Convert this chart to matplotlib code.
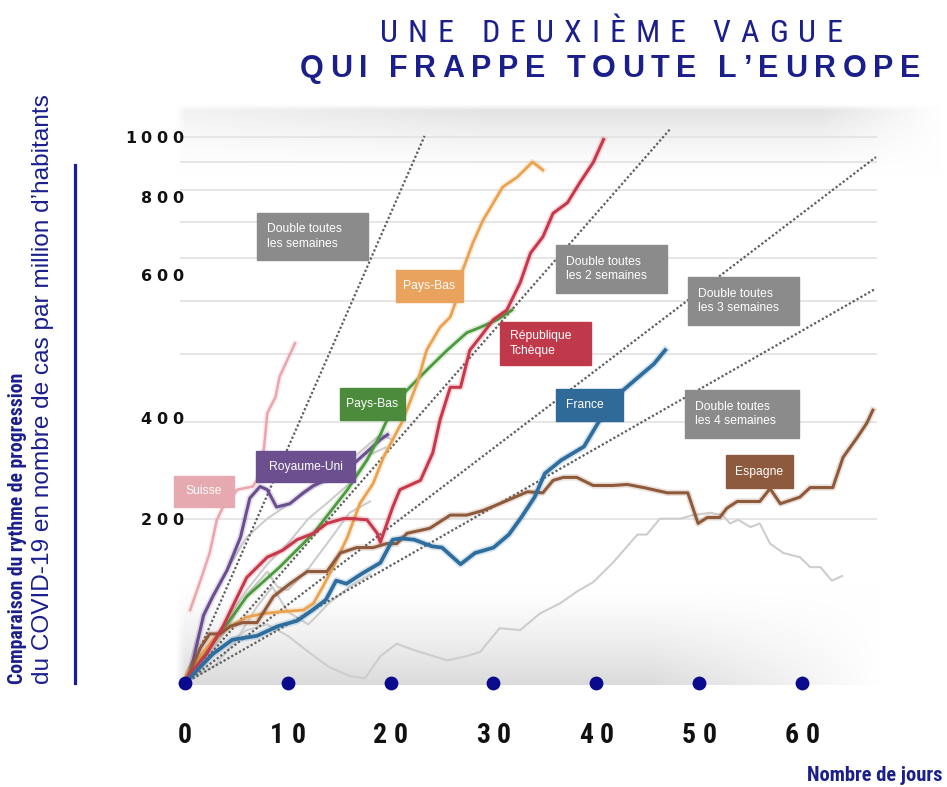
import numpy as np
import matplotlib
matplotlib.use("Agg")
import matplotlib.pyplot as plt
from matplotlib.lines import Line2D
from matplotlib.patches import Rectangle
from matplotlib.font_manager import FontProperties, fontManager
import matplotlib.patheffects as pe

# ---------------- data (index = 100 at day 0, log scale) ----------------
france_days = [0, 2.7, 4.6, 7, 9, 10.9, 12.4, 13.7, 14.7, 15.7, 17.3, 19, 20.2, 21, 22.3, 24, 25,
               26.8, 28.2, 30, 31.5, 32.7, 34, 35, 36.6, 38.8, 40.2, 42, 44, 45.6, 46.7]
france_vals = [100, 113, 120, 122, 127, 130, 136, 142, 154, 152, 159, 166, 183, 184, 183, 178, 177,
               165, 173, 177, 187, 201, 219, 242, 256, 271, 300, 336, 362, 384, 407]

spain_days = [0, 1.5, 2.4, 3.4, 4.4, 5.6, 7.0, 8.6, 10.2, 11.9, 13.8, 15.1, 16.7, 18.3, 19.6, 20.6,
              21.6, 23.8, 25.8, 27.4, 29.0, 30.6, 33.3, 34.8, 35.8, 36.8, 38.1, 39.7, 41.6, 43.0,
              44.6, 46.9, 48.9, 49.9, 50.8, 52.0, 52.7, 53.7, 55.9, 56.9, 57.9, 59.8, 60.8, 63.0,
              64.0, 65.4, 66.3, 66.9]
spain_vals = [100, 116, 123, 123, 127, 129, 129, 144, 152, 160, 160, 173, 177, 177, 180, 180,
              188, 192, 203, 203, 207, 213, 224, 223, 235, 238, 238, 230, 230, 231,
              228, 223, 223, 196, 201, 201, 209, 215, 215, 227, 213, 219, 228, 228,
              259, 282, 299, 316]

czech_days = [0, 0.5, 2.1, 3.7, 5.1, 6.0, 8.0, 9.5, 10.9, 12.5, 13.8, 15.4, 16.3, 17.7, 18.7, 19.0,
              20.2, 20.9, 22.9, 24.1, 24.8, 25.8, 26.8, 27.7, 28.7, 30.0, 31.3, 32.6, 33.6, 34.8,
              35.8, 37.2, 38.4, 39.7, 40.7]
czech_vals = [100, 104, 113, 127, 144, 156, 170, 175, 183, 188, 196, 200, 200, 199, 188, 181,
              210, 226, 235, 264, 303, 348, 348, 407, 430, 463, 482, 541, 613, 656,
              725, 758, 825, 898, 989]

nl_orange_days = [0, 0.2, 1.5, 2.7, 4.4, 6.0, 7.6, 9.2, 11.5, 12.5, 13.4, 14.4, 15.8, 17.0, 18.3,
                  19.3, 20.2, 21.2, 22.6, 23.5, 24.8, 25.8, 26.5, 27.0, 28.0, 29.0, 30.0, 30.9,
                  32.3, 33.8, 34.8]
nl_orange_vals = [100, 104, 112, 120, 127, 132, 134, 135, 136, 140, 150, 163, 185, 213, 232,
                  259, 279, 303, 355, 407, 448, 468, 510, 570, 640, 705, 758, 810,
                  844, 900, 870]

nl_green_days = [0, 0.5, 2.7, 6.0, 9.2, 12.5, 15.8, 17.7, 19.0, 20.2, 21.6, 23.5, 25.5, 27.4, 28.7,
                 30.4, 31.8]
nl_green_vals = [100, 106, 118, 144, 163, 188, 226, 256, 285, 320, 344, 374, 407, 438, 448,
                 463, 482]

uk_days = [0, 0.8, 1.8, 2.7, 4.1, 5.4, 6.3, 7.3, 8.0, 8.9, 10.2, 11.5, 12.5, 14.4, 16.3, 17.7,
           19.0, 19.7]
uk_vals = [100, 110, 133, 144, 161, 185, 218, 229, 226, 210, 213, 223, 230, 238, 251, 265,
           279, 285]

swiss_days = [0.5, 1.5, 2.4, 3.1, 3.7, 5.1, 6.6, 7.3, 7.7, 8.0, 8.8, 9.2, 10.7]
swiss_vals = [136, 154, 173, 199, 210, 226, 229, 240, 271, 312, 334, 364, 419]

gray_series = [
    ([0, 2, 4, 6, 8, 10, 12, 14, 16, 17.5, 19, 20.6, 22.2, 25.5, 27.4, 28.7, 30.6, 32.6, 34.5,
      36.5, 38.1, 39.7, 41.6, 44.0, 44.9, 46.2, 48.2, 49.4, 51.1, 52.3, 53.0, 53.8, 55.0, 55.9,
      56.9, 58.2, 59.8, 60.8, 61.8, 62.9, 63.9],
     [100, 110, 118, 125, 128, 122, 114, 107, 103, 102, 112, 118, 115, 110, 112, 114, 126, 125,
      134, 140, 147, 153, 166, 187, 187, 200, 200, 203, 205, 203, 196, 199, 193, 196,
      180, 173, 170, 163, 163, 154, 157]),
    ([0, 1, 2, 4, 6, 8, 10, 12, 14, 16, 18, 19, 20],
     [100, 118, 135, 160, 185, 200, 212, 225, 238, 255, 275, 285, 280]),
    ([0, 2, 4, 6, 8, 10, 12, 14, 16, 18, 19.5],
     [100, 112, 130, 148, 165, 180, 200, 215, 232, 262, 270]),
    ([0, 2, 4, 6, 8, 9, 10, 12, 14, 16, 18],
     [100, 110, 125, 145, 160, 150, 148, 162, 182, 205, 215]),
    ([0, 3, 5, 7, 8.5, 10, 12, 14, 16, 18],
     [100, 108, 120, 138, 150, 135, 128, 140, 150, 158]),
]

doubling_periods = [7, 14, 21, 28]          # days to double
doubling_end_days = [23.3, 47.2, 67.2, 67.2]

grid_values = [200, 300, 400, 500, 600, 700, 800, 900, 1000]
ytick_positions = [200, 306, 559, 776, 1000]
ytick_labels = ["200", "400", "600", "800", "1000"]
xtick_days = [0, 10, 20, 30, 40, 50, 60]

# ---------------- fonts ----------------
_names = {f.name for f in fontManager.ttflist}

def pick(*cands):
    for c in cands:
        if c in _names:
            return c
    return "DejaVu Sans"

NARROW = pick("Liberation Sans Narrow", "DejaVu Sans Condensed", "Roboto Condensed",
              "Open Sans Condensed", "Liberation Sans")
SANS = pick("Liberation Sans", "Arial", "DejaVu Sans")

# ---------------- figure ----------------
W, H = 947, 787
fig = plt.figure(figsize=(W / 100, H / 100), dpi=100)
fig.patch.set_facecolor("white")
NAVY = "#1b1f8c"

def fx(px):
    return px / W

def fy(py):
    return 1 - py / H

# background gradient image
bg = fig.add_axes([0, 0, 1, 1], zorder=-5)
bg.axis("off")
xx, yy = np.meshgrid(np.arange(W), np.arange(H))
top_d = 0.11 * np.clip((175 - yy) / 65, 0, 1) ** 1.4
top_d *= (0.45 + 0.55 * np.clip((xx - 180) / 300, 0, 1)) * np.clip((yy - 104) / 6, 0, 1)
top_d *= np.clip((xx - 175) / 10, 0, 1) * np.clip((940 - xx) / 120, 0, 1)
bot_d = 0.14 * np.clip((yy - 585) / 98, 0, 1) ** 1.3 * (yy <= 684)
bot_d *= np.clip((880 - xx) / 230, 0, 1) * np.clip((xx - 175) / 10, 0, 1)
g = 1 - top_d - bot_d
bg.imshow(np.dstack([g, g, g]), extent=[0, 1, 0, 1], aspect="auto", interpolation="bilinear")
bg.set_xlim(0, 1)
bg.set_ylim(0, 1)

ax = fig.add_axes([fx(180), fy(683), (877 - 180) / W, (683 - 108) / H])
ax.patch.set_alpha(0)
ax.set_yscale("log")
ax.set_xlim(-0.486, 67.3)
ax.set_ylim(100, 1130)
for s in ax.spines.values():
    s.set_visible(False)
ax.set_xticks([])
ax.set_yticks([])
ax.minorticks_off()

for gv in grid_values:
    ax.axhline(gv, color="#e4e4e4", lw=1.3, zorder=1)

for d, v in gray_series:
    ax.plot(d, v, color="#cdcdcd", lw=1.5, zorder=2)

for T, end in zip(doubling_periods, doubling_end_days):
    ax.plot([0, end], [100, 100 * 2 ** (end / T)], color="#5e5e5e", lw=1.6,
            linestyle=(0, (1, 1)), zorder=3)

def series(d, v, color, lw, z=5):
    ax.plot(d, v, color=color, lw=lw, zorder=z, solid_joinstyle="round",
            path_effects=[pe.Stroke(linewidth=lw + 2.5, foreground=color, alpha=0.18), pe.Normal()])

series(swiss_days, swiss_vals, "#e9a6ad", 1.8)
series(uk_days, uk_vals, "#6b4e90", 2.2)
series(nl_green_days, nl_green_vals, "#4c9a3d", 2.0)
series(nl_orange_days, nl_orange_vals, "#eaa24f", 2.0)
series(spain_days, spain_vals, "#8e5a3b", 2.2)
series(czech_days, czech_vals, "#c8384a", 2.2)
series(france_days, france_vals, "#2e6e9e", 2.7, z=6)

ax.scatter(xtick_days, [100] * len(xtick_days), s=80, color="#0a0a8c", zorder=8, clip_on=False)

# ---------------- text helpers ----------------
renderer = fig.canvas.get_renderer()

def text_w(s, fp):
    return renderer.get_text_width_height_descent(s, fp, ismath=False)[0]

def fit_size(s, family, weight, target):
    fp = FontProperties(family=family, weight=weight, size=10)
    return 10 * target / text_w(s, fp)

def spaced(s, x, y, fp, color, tracking=0.0, width=None, ha="center"):
    """x, y in display pixels (y from bottom); y = baseline."""
    ws = [text_w(ch, fp) for ch in s]
    if width is not None and len(s) > 1:
        tracking = (width - sum(ws)) / (len(s) - 1)
    total = sum(ws) + tracking * (len(s) - 1)
    cx = x - total / 2 if ha == "center" else (x - total if ha == "right" else x)
    for ch, w in zip(s, ws):
        fig.text(cx / W, y / H, ch, fontproperties=fp, color=color, ha="left", va="baseline")
        cx += w + tracking

# y tick labels
fp_y = FontProperties(family=["DejaVu Sans"], weight="bold", size=11.5)
for pos, lab in zip(ytick_positions, ytick_labels):
    yd = ax.transData.transform((0, pos))[1]
    spaced(lab, 183, yd - 6, fp_y, "#111111", tracking=4.5, ha="right")

# x tick labels
fp_x = FontProperties(family=NARROW, weight="bold", size=20)
for d in xtick_days:
    xd = ax.transData.transform((d, 100))[0]
    spaced(str(d), xd, H - 743, fp_x, "#111111", tracking=7, ha="center")

# titles
fp_t1 = FontProperties(family=NARROW, weight="normal", size=23)
fp_t2 = FontProperties(family=SANS, weight="bold", size=22)
spaced("UNE DEUXIÈME VAGUE", 611, H - 42, fp_t1, NAVY, width=462)
spaced("QUI FRAPPE TOUTE L’EUROPE", 610, H - 77, fp_t2, NAVY, width=620)

# axis titles
lab1 = "Comparaison du rythme de progression"
lab2 = "du COVID-19 en nombre de cas par million d’habitants"
fig.text(fx(18), fy(684), lab1, rotation=90, ha="center", va="bottom", color=NAVY,
         family=NARROW, weight="bold", fontsize=fit_size(lab1, NARROW, "bold", 311))
fig.text(fx(43), fy(684), lab2, rotation=90, ha="center", va="bottom", color=NAVY,
         family=SANS, fontsize=fit_size(lab2, SANS, "normal", 591))
fig.add_artist(Line2D([fx(75), fx(75)], [fy(165), fy(683)], color="#1a1a9a", lw=2.3,
                      transform=fig.transFigure))
lab3 = "Nombre de jours"
fig.text(fx(942), fy(781), lab3, ha="right", va="baseline", color=NAVY,
         family=NARROW, weight="bold", fontsize=fit_size(lab3, NARROW, "bold", 136))

# labelled boxes (pixel layout)
boxes = [
    ("Double toutes\nles semaines", (257, 213, 368, 260), "#8b8b8b", "left"),
    ("Pays-Bas", (396, 270, 463, 302), "#e9a35e", "center"),
    ("Double toutes\nles 2 semaines", (556, 245, 667, 293), "#8b8b8b", "left"),
    ("Double toutes\nles 3 semaines", (688, 277, 799, 325), "#8b8b8b", "left"),
    ("République\nTchèque", (500, 322, 591, 365), "#c0394b", "left"),
    ("Pays-Bas", (340, 388, 405, 420), "#4b8b3b", "center"),
    ("France", (556, 389, 623, 421), "#2f6a99", "left"),
    ("Double toutes\nles 4 semaines", (685, 390, 799, 438), "#8b8b8b", "left"),
    ("Royaume-Uni", (256, 451, 355, 482), "#6b4f8e", "center"),
    ("Espagne", (726, 455, 793, 488), "#8e5a3e", "center"),
    ("Suisse", (174, 476, 234, 507), "#e6a9b0", "center"),
]
for txt, (x0, y0, x1, y1), col, al in boxes:
    fig.add_artist(Rectangle((fx(x0), fy(y1)), (x1 - x0) / W, (y1 - y0) / H, color=col,
                             transform=fig.transFigure, zorder=20))
    tx = x0 + 10 if al == "left" else (x0 + x1) / 2
    fig.text(fx(tx), fy((y0 + y1) / 2), txt, ha=al, va="center", color="white",
             family=SANS, fontsize=8.7, linespacing=1.25, zorder=21)

fig.savefig("out.png", dpi=100, facecolor="white")
